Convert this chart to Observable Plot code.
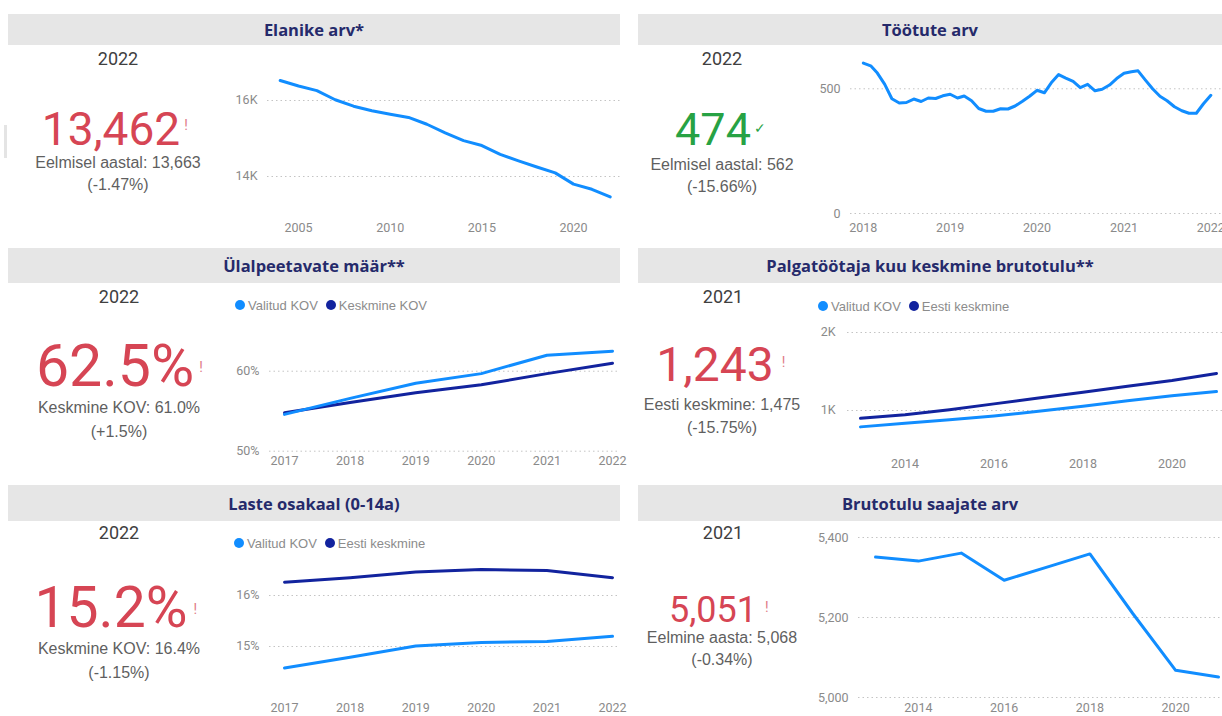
<!DOCTYPE html>
<html><head><meta charset="utf-8">
<script src="https://cdn.jsdelivr.net/npm/d3@7"></script>
<script src="https://cdn.jsdelivr.net/npm/@observablehq/plot@0.6"></script>
<style>
body{margin:0;background:#fff;}
#root{position:relative;width:1222px;height:716px;overflow:hidden;font-family:"Liberation Sans",Arial,sans-serif;}
.hdr{position:absolute;background:#e6e6e6;color:#252a6b;font-family:"Open Sans",sans-serif;font-weight:700;font-size:16.5px;display:flex;align-items:center;justify-content:center;}
.abs{position:absolute;white-space:nowrap;text-align:center;}
.chart{position:absolute;}
.legend{position:absolute;display:flex;align-items:center;height:16px;font-family:"Liberation Sans",Arial,sans-serif;font-size:13px;color:#8c8c8c;white-space:nowrap;}
.legend .dot{width:10px;height:10px;border-radius:50%;margin-right:3px;}
</style></head><body><div id="root"></div>
<script>
// ---------- DATA ----------
const elanikeYears  = [2004,2005,2006,2007,2008,2009,2010,2011,2012,2013,2014,2015,2016,2017,2018,2019,2020,2021,2022];
const elanikeValues = [16526,16380,16260,16020,15850,15730,15640,15555,15375,15150,14945,14815,14580,14410,14250,14095,13800,13663,13462];
const elanikeXTicks = [2005,2010,2015,2020];
const elanikeYTicks = [14000,16000];

const tootudMonths = ["2018-01","2018-02","2018-03","2018-04","2018-05","2018-06","2018-07","2018-08","2018-09","2018-10","2018-11","2018-12",
  "2019-01","2019-02","2019-03","2019-04","2019-05","2019-06","2019-07","2019-08","2019-09","2019-10","2019-11","2019-12",
  "2020-01","2020-02","2020-03","2020-04","2020-05","2020-06","2020-07","2020-08","2020-09","2020-10","2020-11","2020-12",
  "2021-01","2021-02","2021-03","2021-04","2021-05","2021-06","2021-07","2021-08","2021-09","2021-10","2021-11","2021-12",
  "2022-01"];
const tootudValues = [603,592,563,518,460,443,445,459,449,463,461,472,
  478,463,471,452,421,410,410,420,419,431,450,470,
  494,484,524,557,543,530,505,518,492,498,515,541,
  562,568,572,535,500,470,452,428,412,402,402,440,
  474];
const tootudXTicks = ["2018","2019","2020","2021","2022"];
const tootudYTicks = [0,500];

const ulalYears    = [2017,2018,2019,2020,2021,2022];
const ulalValitud  = [54.6,56.6,58.5,59.7,62.0,62.5];
const ulalKeskmine = [54.8,56.1,57.3,58.3,59.7,61.0];
const ulalYTicks   = [50,60];

const palgaYears   = [2013,2014,2015,2016,2017,2018,2019,2020,2021];
const palgaValitud = [790,835,880,930,990,1055,1125,1190,1243];
const palgaEesti   = [900,945,1010,1085,1160,1235,1310,1385,1475];
const palgaXTicks  = [2014,2016,2018,2020];
const palgaYTicks  = [1000,2000];

const lasteYears   = [2017,2018,2019,2020,2021,2022];
const lasteValitud = [14.58,14.79,15.01,15.08,15.10,15.2];
const lasteEesti   = [16.26,16.35,16.46,16.51,16.49,16.35];
const lasteYTicks  = [15,16];

const brutoYears   = [2013,2014,2015,2016,2017,2018,2019,2020,2021];
const brutoValues  = [5351,5341,5361,5293,5326,5359,5210,5068,5051];
const brutoXTicks  = [2014,2016,2018,2020];
const brutoYTicks  = [5000,5200,5400];

const LIGHT = "#118DFF", NAVY = "#12239E", RED = "#D64554", GREEN = "#27A244";

// ---------- HELPERS ----------
const root = document.getElementById("root");
function el(html){ const d=document.createElement("div"); d.innerHTML=html; const n=d.firstElementChild; root.appendChild(n); return n; }

function header(text,l,t,w,h){ el(`<div class="hdr" style="left:${l}px;top:${t}px;width:${w}px;height:${h}px">${text}</div>`); }
function label(text,cx,cy,size,color,family){
  const lh=size;
  el(`<div class="abs" style="left:${cx-200}px;width:400px;top:${cy-lh/2}px;line-height:${lh}px;font-size:${size}px;color:${color};font-family:${family}">${text}</div>`);
}
function big(text,cx,capCenter,fs,color,mark,markColor,gap,markOff){
  const top = capCenter-0.4865*fs;
  const mTop = 0.217*fs + markOff - 2;
  el(`<div class="abs" style="left:${cx-300}px;width:600px;top:${top}px;line-height:${fs}px;font-size:${fs}px;color:${color};font-family:Roboto,sans-serif">`+
     `<span style="position:relative">${text}<span style="position:absolute;left:calc(100% + ${gap}px);top:${mTop}px;font-size:14px;line-height:14px;color:${markColor}">${mark}</span></span></div>`);
}
function legend(items,l,cy){
  el(`<div class="legend" style="left:${l}px;top:${cy-8}px">`+items.map((it,i)=>
    `<div class="dot" style="background:${it.color};${i?"margin-left:8px;":""}"></div><span>${it.name}</span>`).join("")+`</div>`);
}
function chart(o){
  const marks=[
    Plot.gridY(o.yTicks,{stroke:"#c4c4c4",strokeOpacity:1,strokeDasharray:"1.5,3"}),
    Plot.axisY({ticks:o.yTicks,tickSize:0,tickPadding:o.yPad,tickFormat:o.yFormat,label:null}),
    Plot.axisX({ticks:o.xTicks,tickSize:0,tickPadding:o.xPad,tickFormat:o.xFormat,label:null}),
    ...o.series.map(s=>Plot.line(s.data,{x:"x",y:"y",stroke:s.color,strokeWidth:3}))
  ];
  const svg=Plot.plot({
    width:o.w,height:o.h,marginLeft:o.mL,marginTop:o.mT,marginBottom:o.mB,marginRight:0,
    x:{domain:o.xDomain,type:o.xType||"linear",label:null},
    y:{domain:o.yDomain,label:null},
    style:{background:"none",color:"#8a8a8a",fontSize:"12.5px",fontFamily:"Roboto, sans-serif",overflow:"visible"},
    marks
  });
  svg.classList.add("chart");
  svg.style.left=o.l+"px"; svg.style.top=o.t+"px"; svg.style.maxWidth="none";
  root.appendChild(svg);
}
const zip=(xs,ys)=>xs.map((x,i)=>({x,y:ys[i]}));
const yearFmt=d=>String(d);

// ---------- HEADERS ----------
header("Elanike arv*",8,14,612,31);
header("Töötute arv",638,14,584,31);
header("Ülalpeetavate määr**",8,248,612,35);
header("Palgatöötaja kuu keskmine brutotulu**",638,248,584,35);
header("Laste osakaal (0-14a)",8,485,612,36);
header("Brutotulu saajate arv",638,485,584,36);
el(`<div style="position:absolute;left:4px;top:125px;width:3px;height:33px;background:#e4e4e4"></div>`);

// ---------- KPI CARDS ----------
const YR="#404040", SUB="#5f5f5f", SUBF="'Liberation Sans',Arial,sans-serif", YRF="Roboto,sans-serif";
label("2022",118,59,18,YR,YRF);
big("13,462",111,128,46,RED,"!","#e07a86",4,8);
label("Eelmisel aastal: 13,663",118,163,16,SUB,SUBF);
label("(-1.47%)",118,185,16,SUB,SUBF);

label("2022",722,59,18,YR,YRF);
big("474",713,128.5,45,GREEN,"✓",GREEN,3,11);
label("Eelmisel aastal: 562",722,165,16,SUB,SUBF);
label("(-15.66%)",722,187,16,SUB,SUBF);

label("2022",119,297,18,YR,YRF);
big("62.5%",115,364.5,59,RED,"!","#e07a86",5,18);
label("Keskmine KOV: 61.0%",119,408,16,SUB,SUBF);
label("(+1.5%)",119,432,16,SUB,SUBF);

label("2021",723,297,18,YR,YRF);
big("1,243",715,364,48,RED,"!","#e07a86",8,11);
label("Eesti keskmine: 1,475",722,405,16,SUB,SUBF);
label("(-15.75%)",722,428,16,SUB,SUBF);

label("2022",119,533,18,YR,YRF);
big("15.2%",111,606.5,57,RED,"!","#e07a86",6,18);
label("Keskmine KOV: 16.4%",119,649,16,SUB,SUBF);
label("(-1.15%)",119,673,16,SUB,SUBF);

label("2021",723,533,18,YR,YRF);
big("5,051",713,609.5,36,RED,"!","#e07a86",8,5);
label("Eelmine aasta: 5,068",722,638,16,SUB,SUBF);
label("(-0.34%)",722,660,16,SUB,SUBF);

// ---------- LEGENDS ----------
legend([{name:"Valitud KOV",color:LIGHT},{name:"Keskmine KOV",color:NAVY}],235,305);
legend([{name:"Valitud KOV",color:LIGHT},{name:"Eesti keskmine",color:NAVY}],818,306);
legend([{name:"Valitud KOV",color:LIGHT},{name:"Eesti keskmine",color:NAVY}],234,543);

// ---------- CHARTS ----------
chart({l:220,t:50,w:400,h:190,mL:47,mT:12,mB:28,
  xDomain:[2003.307,2022.562],yDomain:[13052.6,17000],
  xTicks:elanikeXTicks,yTicks:elanikeYTicks,xFormat:yearFmt,yFormat:d=>d/1000+"K",xPad:10.6,yPad:10,
  series:[{data:zip(elanikeYears,elanikeValues),color:LIGHT}]});

chart({l:810,t:45,w:412,h:195,mL:40,mT:10,mB:27,xType:"utc",
  xDomain:[new Date("2017-11-08"),new Date("2022-02-19")],yDomain:[0,633.5],
  xTicks:tootudXTicks.map(y=>new Date(y+"-01-01")),yTicks:tootudYTicks,xFormat:d3.utcFormat("%Y"),yFormat:d=>String(d),xPad:9.6,yPad:10,
  series:[{data:zip(tootudMonths.map(m=>new Date(m+"-01")),tootudValues),color:LIGHT}]});

chart({l:220,t:310,w:400,h:170,mL:49,mT:10,mB:29.3,
  xDomain:[2016.771,2022.122],yDomain:[50,66.34],
  xTicks:ulalYears,yTicks:ulalYTicks,xFormat:yearFmt,yFormat:d=>d+"%",xPad:4.9,yPad:10,
  series:[{data:zip(ulalYears,ulalKeskmine),color:NAVY},{data:zip(ulalYears,ulalValitud),color:LIGHT}]});

chart({l:800,t:310,w:422,h:170,mL:47,mT:10,mB:28,
  xDomain:[2012.708,2021.135],yDomain:[461.5,2153.8],
  xTicks:palgaXTicks,yTicks:palgaYTicks,xFormat:yearFmt,yFormat:d=>d/1000+"K",xPad:6.6,yPad:12,
  series:[{data:zip(palgaYears,palgaValitud),color:LIGHT},{data:zip(palgaYears,palgaEesti),color:NAVY}]});

chart({l:220,t:545,w:400,h:171,mL:49,mT:10,mB:19,
  xDomain:[2016.771,2022.122],yDomain:[14.0,16.784],
  xTicks:lasteYears,yTicks:lasteYTicks,xFormat:yearFmt,yFormat:d=>d+"%",xPad:5.8,yPad:10,
  series:[{data:zip(lasteYears,lasteValitud),color:LIGHT},{data:zip(lasteYears,lasteEesti),color:NAVY}]});

chart({l:800,t:520,w:422,h:196,mL:58,mT:10,mB:19,
  xDomain:[2012.603,2021.093],yDomain:[5000,5417.5],
  xTicks:brutoXTicks,yTicks:brutoYTicks,xFormat:yearFmt,yFormat:d3.format(","),xPad:5.8,yPad:10,
  series:[{data:zip(brutoYears,brutoValues),color:LIGHT}]});
</script></body></html>
